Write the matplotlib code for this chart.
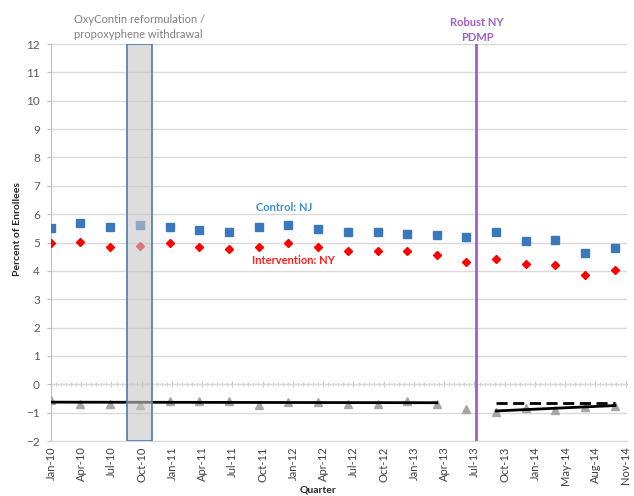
import matplotlib
matplotlib.use('Agg')
import matplotlib.pyplot as plt
import matplotlib.dates as mdates
from matplotlib.ticker import FixedLocator, NullFormatter
import pandas as pd

plt.rcParams['font.family'] = ['Lato', 'DejaVu Sans']

# quarterly data points
quarters = pd.date_range('2010-01-01', periods=20, freq='QS')
control_nj = [5.52, 5.70, 5.54, 5.61, 5.56, 5.43, 5.36, 5.56, 5.61, 5.47,
              5.38, 5.38, 5.29, 5.27, 5.18, 5.38, 5.04, 5.10, 4.64, 4.80]
intervention_ny = [4.98, 5.01, 4.85, 4.89, 4.98, 4.85, 4.78, 4.83, 4.98, 4.85,
                   4.69, 4.69, 4.70, 4.57, 4.30, 4.43, 4.23, 4.21, 3.84, 4.02]
difference = [-0.57, -0.71, -0.70, -0.73, -0.59, -0.59, -0.59, -0.73, -0.62, -0.64,
              -0.71, -0.71, -0.58, -0.71, -0.88, -0.96, -0.82, -0.90, -0.81, -0.77]

# trend lines (start, end)
pre_dates = ['2010-01-01', '2013-04-01']
pre_trend = [-0.63, -0.65]
post_dates = ['2013-10-01', '2014-10-01']
post_trend = [-0.94, -0.75]
counterfactual = [-0.66, -0.66]

# Excel date axis: a tick every 93 days
tick_dates = pd.date_range('2010-01-01', periods=20, freq='93D')
tick_labels = [d.strftime('%b-%y') for d in tick_dates]
minor_dates = pd.date_range('2010-01-01', periods=20 * 6, freq='372h')

reform_span = ('2010-08-24', '2010-11-07')
pdmp_date = '2013-07-31'

blue = '#3A78BE'
red = '#FF0000'
grid = '#D9D9D9'

fig = plt.figure(figsize=(6.34, 4.96), dpi=100)
ax = fig.add_axes([51 / 634, 1 - 441 / 496, 576 / 634, 397 / 496])

ax.set_xlim(mdates.date2num(pd.Timestamp('2010-01-01')),
            mdates.date2num(pd.Timestamp('2014-11-07')))
ax.set_ylim(-2, 12)
ax.set_yticks(range(-2, 13))
ax.yaxis.grid(True, color=grid, lw=1)
ax.set_axisbelow(True)

ax.plot(quarters, control_nj, 's', color=blue, ms=6.3, zorder=3)
ax.plot(quarters, intervention_ny, 'D', color=red, ms=4.2, zorder=3)
ax.plot(quarters, difference, '^', color='#A6A6A6', ms=5.5, zorder=3)

ax.plot(pd.to_datetime(pre_dates), pre_trend, color='black', lw=2, zorder=4)
ax.plot(pd.to_datetime(post_dates), post_trend, color='black', lw=2, zorder=4)
ax.plot(pd.to_datetime(post_dates), counterfactual, color='black', lw=2,
        ls=(0, (4, 2)), zorder=4)

ax.axvspan(pd.Timestamp(reform_span[0]), pd.Timestamp(reform_span[1]),
           facecolor=(0.78, 0.78, 0.78, 0.6), edgecolor='#4A7AB5', lw=1.2, zorder=5)
ax.axvline(pd.Timestamp(pdmp_date), color='#9F5FCF', lw=2, zorder=6)

ax.set_xticks(mdates.date2num(tick_dates))
ax.set_xticklabels(tick_labels, rotation=90, fontsize=8, color='#404040')
ax.tick_params(axis='x', length=0, pad=4)
ax.tick_params(axis='y', length=3, color='#BFBFBF', labelsize=8.5, labelcolor='#595959', pad=5)

for side in ['top', 'right']:
    ax.spines[side].set_visible(False)
ax.spines['left'].set_color('#BFBFBF')
ax.spines['bottom'].set_color(grid)

# horizontal axis line at zero with Excel style tick marks
sec = ax.secondary_xaxis(2 / 14)
sec.set_xticks(mdates.date2num(tick_dates))
sec.xaxis.set_minor_locator(FixedLocator(mdates.date2num(minor_dates)))
sec.xaxis.set_major_formatter(NullFormatter())
sec.tick_params(which='major', direction='inout', length=5, color='#C8C8C8')
sec.tick_params(which='minor', direction='inout', length=3, color='#C8C8C8')
sec.spines['bottom'].set_color('#BFBFBF')

ax.text(pd.Timestamp('2011-12-20'), 6.25, 'Control: NJ', color='#3C8DD6',
        fontsize=8, fontweight='bold', ha='center', va='center')
ax.text(pd.Timestamp('2012-01-17'), 4.35, 'Intervention: NY', color='#FF2020',
        fontsize=8, fontweight='bold', ha='center', va='center')

fig.text(74 / 634, 1 - 27 / 496, 'OxyContin reformulation /\npropoxyphene withdrawal',
         color='#7F7F7F', fontsize=8, ha='left', va='center', linespacing=1.35)
fig.text(477 / 634, 1 - 30 / 496, 'Robust NY\nPDMP', color='#9F5FCF',
         fontsize=8, fontweight='bold', ha='center', va='center', linespacing=1.35)

fig.text(18 / 634, 1 - 229 / 496, 'Percent of Enrollees', rotation=90,
         fontsize=7.5, fontweight='bold', ha='center', va='center', color='#262626')
fig.text(318 / 634, 1 - 490 / 496, 'Quarter', fontsize=7.5, fontweight='bold',
         ha='center', va='center', color='#262626')

plt.savefig('out.png', dpi=100)
